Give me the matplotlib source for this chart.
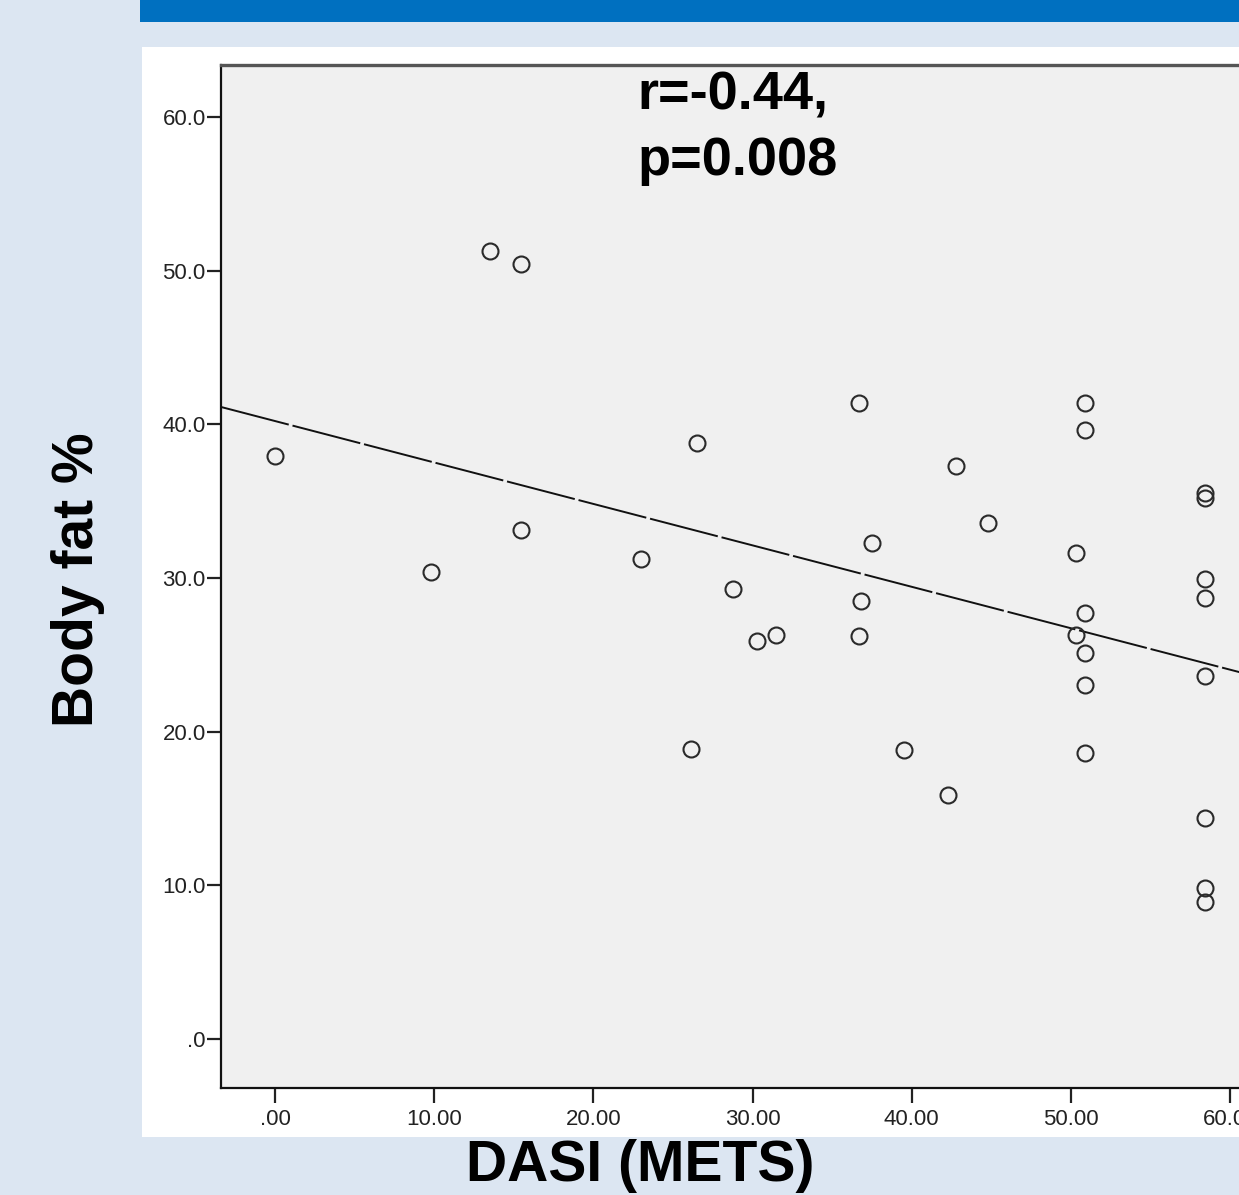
import numpy as np
import matplotlib
matplotlib.use("Agg")
import matplotlib.pyplot as plt
from matplotlib.patches import Rectangle

# ---- data ----
dasi = [0.0, 9.8, 13.5, 15.45, 15.45, 23.0, 26.5, 26.1, 28.8, 30.3, 31.5,
        36.7, 36.8, 36.7, 37.5, 39.5, 42.3, 42.8, 44.8, 50.3, 50.9, 50.9,
        50.9, 50.3, 50.9, 50.9, 50.9, 58.4, 58.4, 58.4, 58.4, 58.4, 58.4,
        58.4, 58.4]
body_fat = [37.9, 30.4, 51.3, 50.4, 33.1, 31.2, 38.8, 18.9, 29.3, 25.9, 26.3,
            41.4, 28.5, 26.2, 32.3, 18.8, 15.9, 37.3, 33.6, 31.6, 41.4, 39.6,
            27.7, 26.3, 25.1, 23.0, 18.6, 35.5, 35.2, 29.9, 28.7, 23.6, 14.4,
            9.8, 8.9]
x_ticks = [0, 10, 20, 30, 40, 50, 60]
x_tick_labels = [".00", "10.00", "20.00", "30.00", "40.00", "50.00", "60.00"]
y_ticks = [0, 10, 20, 30, 40, 50, 60]
y_tick_labels = [".0", "10.0", "20.0", "30.0", "40.0", "50.0", "60.0"]
annotation = "r=-0.44,\np=0.008"
x_label = "DASI (METS)"
y_label = "Body fat %"

W, H = 1239, 1195
fig = plt.figure(figsize=(W / 100, H / 100), dpi=100)
fig.patch.set_facecolor("#dce6f2")

def fx(px):
    return px / W

def fy(py):
    return 1 - py / H

# blue header bar and white panel
fig.patches.append(Rectangle((fx(140), fy(22)), 1.0, 22 / H, transform=fig.transFigure,
                             facecolor="#0070c0", edgecolor="none", zorder=-10))
fig.patches.append(Rectangle((fx(142), fy(1137)), 1.0, (1137 - 47) / H, transform=fig.transFigure,
                             facecolor="white", edgecolor="none", zorder=-10))

# axes: left 221px, top 65px, bottom 1088px, right beyond picture
ax_left, ax_right, ax_top, ax_bottom = 221, 1320, 65, 1088
ax = fig.add_axes([fx(ax_left), fy(ax_bottom), (ax_right - ax_left) / W, (ax_bottom - ax_top) / H])
ax.set_zorder(1)
ax.set_facecolor("#f0f0f0")

# scales: x 0 at 275px, 10 units = 159.2px ; y 0 at 1039px, 10 units = 153.7px
xpu = 15.92
ypu = 15.37
ax.set_xlim((ax_left - 275) / xpu, (ax_right - 275) / xpu)
ax.set_ylim((1039 - ax_bottom) / ypu, (1039 - ax_top) / ypu)

ax.plot(dasi, body_fat, linestyle="none", marker="o", markersize=11.5,
        markerfacecolor="none", markeredgecolor="#2a2a2a", markeredgewidth=1.5, zorder=3)

# fit line
slope, intercept = np.polyfit(dasi, body_fat, 1)
xl = np.array(ax.get_xlim())
ax.plot(xl, intercept + slope * xl, color="#111111", lw=1.4,
        dashes=(36, 2), zorder=2)

ax.set_xticks(x_ticks)
ax.set_xticklabels(x_tick_labels)
ax.set_yticks(y_ticks)
ax.set_yticklabels(y_tick_labels)
for lab in ax.get_xticklabels() + ax.get_yticklabels():
    lab.set_fontfamily(["Liberation Sans", "DejaVu Sans"])
    lab.set_fontsize(16)
    lab.set_color("#222222")
ax.tick_params(axis="x", direction="out", length=11, width=1.6, pad=4, color="#222222")
ax.tick_params(axis="y", direction="out", length=10, width=1.6, pad=1, color="#222222")

for s in ["left", "bottom"]:
    ax.spines[s].set_color("#111111")
    ax.spines[s].set_linewidth(1.6)
ax.spines["top"].set_color("#555555")
ax.spines["top"].set_linewidth(2.4)
ax.spines["right"].set_visible(False)

# annotation
fig.text(fx(637), fy(70), annotation, ha="left", va="top",
         fontsize=39, fontweight="bold", family=["Liberation Sans", "DejaVu Sans"],
         linespacing=1.4, color="black", zorder=5)

# axis labels (figure placed)
fig.text(fx(640), fy(1166), x_label, ha="center", va="center", fontsize=41,
         fontweight="bold", family=["Liberation Sans", "DejaVu Sans"], color="black")
fig.text(fx(78), fy(580), y_label, ha="center", va="center", rotation=90, fontsize=41,
         fontweight="bold", family=["Liberation Sans", "DejaVu Sans"], color="black")

fig.savefig("out.png", dpi=100, facecolor=fig.get_facecolor())
